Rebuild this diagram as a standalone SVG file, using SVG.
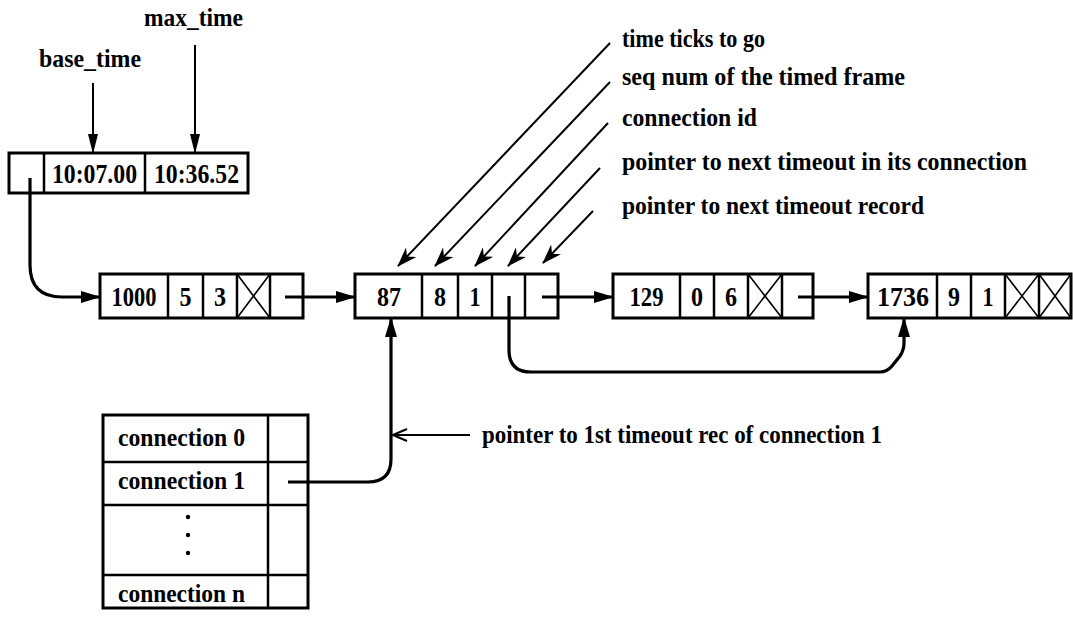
<svg xmlns="http://www.w3.org/2000/svg" width="1073" height="618" viewBox="0 0 1073 618">
<style>
text{font-family:"Liberation Serif","Times New Roman","DejaVu Serif",serif;font-weight:bold;font-size:26px;fill:#000}
.c{text-anchor:middle}
.n{font-size:28px}
.box{fill:#fff;stroke:#000;stroke-width:3}
.div{stroke:#000;stroke-width:2.5;fill:none}
.x{stroke:#000;stroke-width:1.6;fill:none}
.ptr{stroke:#000;stroke-width:3.2;fill:none}
.lbl{stroke:#000;stroke-width:2;fill:none}
</style>
<defs>
<marker id="ah" viewBox="0 0 20 12" refX="19" refY="6" markerWidth="20" markerHeight="12" markerUnits="userSpaceOnUse" orient="auto"><path d="M0,0 L20,6 L0,12 Z" fill="#000"/></marker>
<marker id="ahs" viewBox="0 0 20 10" refX="19" refY="5" markerWidth="20" markerHeight="10" markerUnits="userSpaceOnUse" orient="auto"><path d="M0,0 L20,5 L0,10 Z" fill="#000"/></marker>
<marker id="barb" viewBox="0 0 20 14" refX="19" refY="7" markerWidth="20" markerHeight="14" markerUnits="userSpaceOnUse" orient="auto"><path d="M0,0 L20,7 L0,14 L6,7 Z" fill="#000"/></marker>
<marker id="open" viewBox="0 0 16 14" refX="15" refY="7" markerWidth="16" markerHeight="14" markerUnits="userSpaceOnUse" orient="auto"><path d="M1,1 L15,7 L1,13" fill="none" stroke="#000" stroke-width="2"/></marker>
</defs>

<g id="header">
<rect class="box" x="9" y="153" width="239" height="40"/>
<line class="div" x1="44" y1="153" x2="44" y2="193"/>
<line class="div" x1="145" y1="153" x2="145" y2="193"/>
<text class="c n" x="94.5" y="183" textLength="85" lengthAdjust="spacingAndGlyphs">10:07.00</text>
<text class="c n" x="196.5" y="183" textLength="85" lengthAdjust="spacingAndGlyphs">10:36.52</text>
</g>

<g id="label-base-time"><text x="39" y="67" textLength="102" lengthAdjust="spacingAndGlyphs">base_time</text></g>
<g id="label-max-time"><text x="144" y="26" textLength="99" lengthAdjust="spacingAndGlyphs">max_time</text></g>

<g id="rec1">
<rect class="box" x="100" y="274" width="203" height="44"/>
<line class="div" x1="168" y1="274" x2="168" y2="318"/>
<line class="div" x1="203" y1="274" x2="203" y2="318"/>
<line class="div" x1="237" y1="274" x2="237" y2="318"/>
<line class="div" x1="270" y1="274" x2="270" y2="318"/>
<path class="x" d="M237,274 L270,318 M270,274 L237,318"/>
<text class="c n" x="134" y="306" textLength="45" lengthAdjust="spacingAndGlyphs">1000</text>
<text class="c n" x="185.5" y="306" textLength="12" lengthAdjust="spacingAndGlyphs">5</text>
<text class="c n" x="220" y="306" textLength="12" lengthAdjust="spacingAndGlyphs">3</text>
</g>

<g id="rec2">
<rect class="box" x="355" y="274" width="203" height="44"/>
<line class="div" x1="422" y1="274" x2="422" y2="318"/>
<line class="div" x1="458" y1="274" x2="458" y2="318"/>
<line class="div" x1="492" y1="274" x2="492" y2="318"/>
<line class="div" x1="525" y1="274" x2="525" y2="318"/>
<text class="c n" x="389" y="306" textLength="24" lengthAdjust="spacingAndGlyphs">87</text>
<text class="c n" x="440" y="306" textLength="12" lengthAdjust="spacingAndGlyphs">8</text>
<text class="c n" x="475" y="306" textLength="11" lengthAdjust="spacingAndGlyphs">1</text>
</g>

<g id="rec3">
<rect class="box" x="613" y="274" width="200" height="44"/>
<line class="div" x1="680" y1="274" x2="680" y2="318"/>
<line class="div" x1="714" y1="274" x2="714" y2="318"/>
<line class="div" x1="748" y1="274" x2="748" y2="318"/>
<line class="div" x1="782" y1="274" x2="782" y2="318"/>
<path class="x" d="M748,274 L782,318 M782,274 L748,318"/>
<text class="c n" x="646.5" y="306" textLength="34" lengthAdjust="spacingAndGlyphs">129</text>
<text class="c n" x="697" y="306" textLength="12" lengthAdjust="spacingAndGlyphs">0</text>
<text class="c n" x="731" y="306" textLength="12" lengthAdjust="spacingAndGlyphs">6</text>
</g>

<g id="rec4">
<rect class="box" x="868" y="274" width="203" height="44"/>
<line class="div" x1="937" y1="274" x2="937" y2="318"/>
<line class="div" x1="971" y1="274" x2="971" y2="318"/>
<line class="div" x1="1005" y1="274" x2="1005" y2="318"/>
<line class="div" x1="1039" y1="274" x2="1039" y2="318"/>
<path class="x" d="M1005,274 L1039,318 M1039,274 L1005,318 M1039,274 L1071,318 M1071,274 L1039,318"/>
<text class="c n" x="903" y="306" textLength="52" lengthAdjust="spacingAndGlyphs">1736</text>
<text class="c n" x="954" y="306" textLength="12" lengthAdjust="spacingAndGlyphs">9</text>
<text class="c n" x="988" y="306" textLength="11" lengthAdjust="spacingAndGlyphs">1</text>
</g>

<g id="conn-table">
<rect class="box" x="103" y="415" width="205" height="193"/>
<line class="div" x1="268" y1="415" x2="268" y2="608"/>
<line class="div" x1="103" y1="462" x2="308" y2="462"/>
<line class="div" x1="103" y1="505" x2="308" y2="505"/>
<line class="div" x1="103" y1="575" x2="308" y2="575"/>
<text x="118" y="446" textLength="127" lengthAdjust="spacingAndGlyphs">connection 0</text>
<text x="118" y="489" textLength="127" lengthAdjust="spacingAndGlyphs">connection 1</text>
<circle cx="188" cy="517" r="2.2"/>
<circle cx="188" cy="535" r="2.2"/>
<circle cx="188" cy="553" r="2.2"/>
<text x="118" y="602" textLength="127" lengthAdjust="spacingAndGlyphs">connection n</text>
</g>

<g id="field-labels">
<text x="622" y="47" textLength="143" lengthAdjust="spacingAndGlyphs">time ticks to go</text>
<text x="622" y="85" textLength="283" lengthAdjust="spacingAndGlyphs">seq num of the timed frame</text>
<text x="622" y="126" textLength="135" lengthAdjust="spacingAndGlyphs">connection id</text>
<text x="622" y="170" textLength="405" lengthAdjust="spacingAndGlyphs">pointer to next timeout in its connection</text>
<text x="622" y="214" textLength="302" lengthAdjust="spacingAndGlyphs">pointer to next timeout record</text>
<text x="482" y="443" textLength="400" lengthAdjust="spacingAndGlyphs">pointer to 1st timeout rec of connection 1</text>
</g>

<g id="connectors">
<line class="lbl" x1="93" y1="83" x2="93" y2="153" marker-end="url(#ahs)"/>
<line class="lbl" x1="195" y1="45" x2="195" y2="153" marker-end="url(#ahs)"/>
<path class="ptr" d="M30,178 L30,265 Q30,297 62,297 L100,297" marker-end="url(#ah)"/>
<path class="ptr" d="M285,297 L355,297" marker-end="url(#ah)"/>
<path class="ptr" d="M542,297 L613,297" marker-end="url(#ah)"/>
<path class="ptr" d="M798,297 L868,297" marker-end="url(#ah)"/>
<path class="ptr" d="M509,296 L509,350 Q509,372 531,372 L880,372 Q887,372 892,366 L900,356 Q904,350 904,343 L904,318" marker-end="url(#ah)"/>
<path class="ptr" d="M288,482 L368,482 Q391,482 391,459 L391,318" marker-end="url(#ah)"/>
<line class="lbl" x1="470" y1="435" x2="393" y2="435" marker-end="url(#open)"/>
<line class="lbl" x1="610" y1="43" x2="398" y2="266" marker-end="url(#barb)"/>
<line class="lbl" x1="610" y1="82" x2="435" y2="266" marker-end="url(#barb)"/>
<line class="lbl" x1="608" y1="123" x2="475" y2="266" marker-end="url(#barb)"/>
<line class="lbl" x1="600" y1="168" x2="508" y2="266" marker-end="url(#barb)"/>
<line class="lbl" x1="593" y1="211" x2="543" y2="263" marker-end="url(#barb)"/>
</g>
</svg>
